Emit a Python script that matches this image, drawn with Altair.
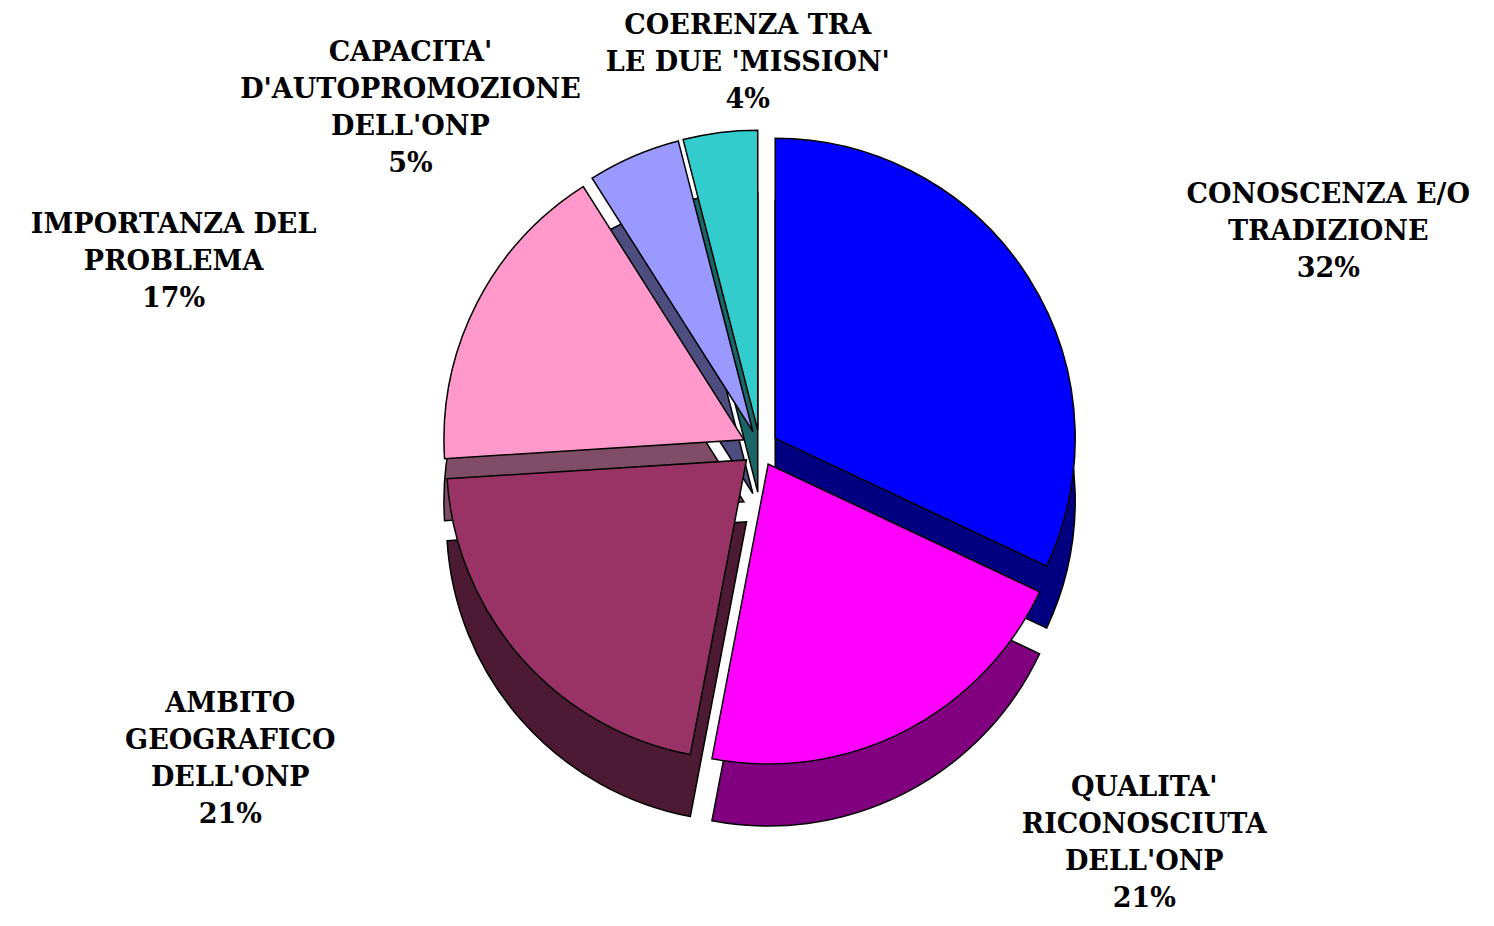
import altair as alt
import pandas as pd

categories = [
    "CONOSCENZA E/O\nTRADIZIONE",
    "QUALITA'\nRICONOSCIUTA\nDELL'ONP",
    "AMBITO\nGEOGRAFICO\nDELL'ONP",
    "IMPORTANZA DEL\nPROBLEMA",
    "CAPACITA'\nD'AUTOPROMOZIONE\nDELL'ONP",
    "COERENZA TRA\nLE DUE 'MISSION'",
]
values = [32, 21, 21, 17, 5, 4]
slice_order = [0, 1, 2, 3, 4, 5]
top_colors = ["#0000FF", "#FF00FF", "#993366", "#FF99CC", "#9999FF", "#33CCCC"]
side_colors = ["#000080", "#800080", "#4D1A33", "#804D66", "#4D4D80", "#1A6666"]

df = pd.DataFrame({"cat": categories, "value": values, "order": slice_order})

# layout (pixels inside the plot area)
CX, CY, R, DEPTH, EXPLODE = 752, 440, 300, 62, 18
LX_SCALE, LX_DEAD = 670, 0.125
LY_UP0, LY_UP = 372, 370
LY_DN0, LY_DN = 442, 365

base = (
    alt.Chart(df)
    .transform_window(cum="sum(value)", sort=[alt.SortField("order")], frame=[None, 0])
    .transform_joinaggregate(total="sum(value)")
    .transform_calculate(
        t0="2*PI*(datum.cum - datum.value)/datum.total",
        t1="2*PI*datum.cum/datum.total",
    )
    .transform_calculate(mid="(datum.t0 + datum.t1)/2")
    .transform_calculate(s="sin(datum.mid)", c="cos(datum.mid)")
    .transform_calculate(
        px=f"{CX} + {EXPLODE}*datum.s",
        py=f"{CY} - {EXPLODE}*datum.c",
        pys=f"{CY} + {DEPTH} - {EXPLODE}*datum.c",
        lx=f"{CX} + {LX_SCALE}*(datum.s < 0 ? -1 : 1)*sqrt(max(abs(datum.s) - {LX_DEAD}, 0))",
        ly=f"datum.c > 0 ? {LY_UP0} - {LY_UP}*datum.c : {LY_DN0} - {LY_DN}*datum.c",
        txt="datum.cat + '\\n' + datum.value + '%'",
    )
)

side = base.mark_arc(radius=R, stroke="black", strokeWidth=1.5).encode(
    x=alt.X("px:Q", scale=None),
    y=alt.Y("pys:Q", scale=None),
    theta=alt.Theta("t0:Q", scale=None, stack=None),
    theta2="t1:Q",
    fill=alt.Fill("cat:N", scale=alt.Scale(domain=categories, range=side_colors), legend=None),
)

top = base.mark_arc(radius=R, stroke="black", strokeWidth=1.5).encode(
    x=alt.X("px:Q", scale=None),
    y=alt.Y("py:Q", scale=None),
    theta=alt.Theta("t0:Q", scale=None, stack=None),
    theta2="t1:Q",
    color=alt.Color("cat:N", scale=alt.Scale(domain=categories, range=top_colors), legend=None),
)

labels = base.mark_text(
    font="DejaVu Serif",
    fontWeight="bold",
    fontSize=27,
    lineBreak="\n",
    lineHeight=37,
    align="center",
    baseline="top",
    color="black",
).encode(
    x=alt.X("lx:Q", scale=None),
    y=alt.Y("ly:Q", scale=None),
    text="txt:N",
)

chart = (
    alt.layer(side, top, labels)
    .properties(width=1478, height=910, padding=0, background="white")
    .configure_view(stroke=None)
)

chart.save("out.html", embed_options={"renderer": "svg", "actions": False})
